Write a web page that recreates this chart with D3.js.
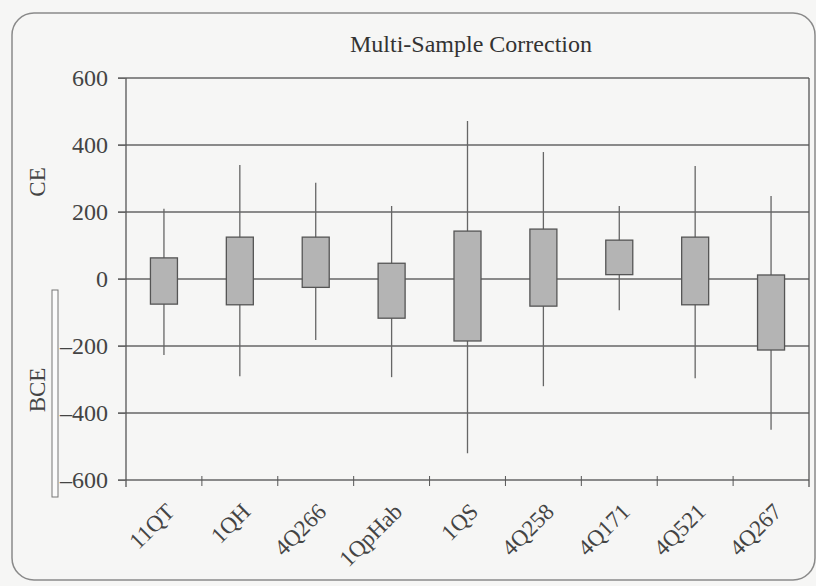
<!DOCTYPE html>
<html>
<head>
<meta charset="utf-8">
<script src="https://cdn.jsdelivr.net/npm/d3@7"></script>
<style>
  body { margin: 0; background: #f6f6f5; }
  svg { display: block; }
  svg text { font-family: "Liberation Serif", "DejaVu Serif", serif; }
</style>
</head>
<body>
<svg id="chart" width="816" height="586"></svg>
<script>
// Daten: Proben und Kennwerte (Jahre, negativ = BCE)
const samples = ['11QT', '1QH', '4Q266', '1QpHab', '1QS', '4Q258', '4Q171', '4Q521', '4Q267'];
const whiskerHigh = [210, 340, 287, 218, 472, 379, 218, 337, 248];
const boxHigh     = [63, 125, 125, 47, 143, 149, 116, 125, 12];
const boxLow      = [-75, -77, -25, -117, -185, -81, 13, -77, -212];
const whiskerLow  = [-227, -290, -182, -293, -520, -320, -93, -296, -450];
const yTicks = [-600, -400, -200, 0, 200, 400, 600];

const data = samples.map((s, i) => ({
  name: s, hi: whiskerHigh[i], q3: boxHigh[i], q1: boxLow[i], lo: whiskerLow[i]
}));

const svg = d3.select('#chart');
const plotLeft = 126, plotRight = 809, plotTop = 78, plotBottom = 480;
const ink = '#555';

// Rahmen
svg.append('rect')
   .attr('x', 12).attr('y', 13)
   .attr('width', 803).attr('height', 567)
   .attr('rx', 22).attr('ry', 22)
   .attr('fill', 'none')
   .attr('stroke', '#8a8a8a')
   .attr('stroke-width', 1.5);

// Titel
svg.append('text')
   .attr('x', 471).attr('y', 52)
   .attr('text-anchor', 'middle')
   .attr('font-size', 24)
   .attr('fill', '#333')
   .text('Multi-Sample Correction');

const x = d3.scaleBand().domain(samples).range([plotLeft, plotRight]).padding(0);
const y = d3.scaleLinear().domain([-600, 600]).range([plotBottom, plotTop]);

// Gitterlinien
svg.append('g')
   .selectAll('line')
   .data(yTicks)
   .enter().append('line')
   .attr('x1', plotLeft - 8).attr('x2', plotRight)
   .attr('y1', d => y(d)).attr('y2', d => y(d))
   .attr('stroke', '#666')
   .attr('stroke-width', 1.3);

// Y-Achse
const yAxis = svg.append('g')
   .attr('transform', `translate(${plotLeft},0)`)
   .call(d3.axisLeft(y).tickValues(yTicks).tickSize(8).tickPadding(10)
           .tickFormat(d => d < 0 ? '\u2013' + Math.abs(d) : d));
yAxis.attr('font-family', null);
yAxis.select('.domain').attr('stroke', ink).attr('stroke-width', 1.3).attr('d', `M0,${plotTop}V${plotBottom + 7}`);
yAxis.selectAll('.tick line').attr('stroke', '#666');
yAxis.selectAll('text')
     .attr('font-size', 24)
     .attr('fill', '#444');

// rechter Rand
svg.append('line')
   .attr('x1', plotRight).attr('x2', plotRight)
   .attr('y1', plotTop).attr('y2', plotBottom + 7)
   .attr('stroke', ink).attr('stroke-width', 1.3);

// X-Achse: Striche an den Bandgrenzen
svg.append('g')
   .selectAll('line')
   .data(samples.slice(1))
   .enter().append('line')
   .attr('x1', d => x(d)).attr('x2', d => x(d))
   .attr('y1', plotBottom - 4).attr('y2', plotBottom + 6)
   .attr('stroke', ink);

// X-Beschriftungen, gedreht
svg.append('g')
   .selectAll('text')
   .data(samples)
   .enter().append('text')
   .attr('transform', d => `translate(${x(d) + x.bandwidth() / 2 + 12},${plotBottom + 33}) rotate(-45)`)
   .attr('text-anchor', 'end')
   .attr('font-size', 23)
   .attr('fill', '#444')
   .text(d => d);

// Boxplots
const boxW = 27;
const g = svg.append('g');
g.selectAll('.whisker')
 .data(data)
 .enter().append('line')
 .attr('class', 'whisker')
 .attr('x1', d => x(d.name) + x.bandwidth() / 2)
 .attr('x2', d => x(d.name) + x.bandwidth() / 2)
 .attr('y1', d => y(d.hi)).attr('y2', d => y(d.lo))
 .attr('stroke', '#666')
 .attr('stroke-width', 1.3);

g.selectAll('.box')
 .data(data)
 .enter().append('rect')
 .attr('class', 'box')
 .attr('x', d => x(d.name) + x.bandwidth() / 2 - boxW / 2)
 .attr('width', boxW)
 .attr('y', d => y(d.q3))
 .attr('height', d => y(d.q1) - y(d.q3))
 .attr('fill', '#b4b4b4')
 .attr('stroke', '#555')
 .attr('stroke-width', 1.3);

// Achsentitel
svg.append('text')
   .attr('transform', 'translate(45,182) rotate(-90)')
   .attr('text-anchor', 'middle')
   .attr('font-size', 23)
   .attr('fill', '#444')
   .text('CE');

svg.append('text')
   .attr('transform', 'translate(45,390) rotate(-90)')
   .attr('text-anchor', 'middle')
   .attr('font-size', 23)
   .attr('fill', '#444')
   .text('BCE');

// schmale Klammer neben BCE
svg.append('rect')
   .attr('x', 52).attr('y', 290)
   .attr('width', 6).attr('height', 207)
   .attr('fill', '#fbfbfb')
   .attr('stroke', '#777')
   .attr('stroke-width', 1);
</script>
</body>
</html>
